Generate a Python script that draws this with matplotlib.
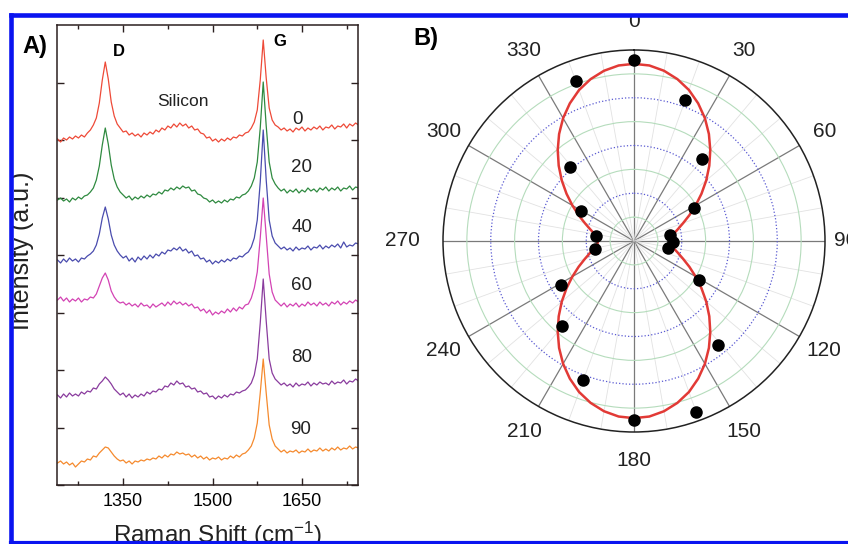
import numpy as np
import matplotlib
matplotlib.use('Agg')
import matplotlib.pyplot as plt
from matplotlib.lines import Line2D
from matplotlib.patches import Rectangle

plt.rcParams['font.family'] = ['Liberation Sans', 'DejaVu Sans']
plt.rcParams['mathtext.fontset'] = 'custom'
plt.rcParams['mathtext.rm'] = 'Liberation Sans'
plt.rcParams['mathtext.it'] = 'Liberation Sans:italic'

# ---- panel A: Raman spectra (sampled every 5 cm-1, 1240..1745) ----
shift = np.arange(1240, 1750, 5)

spec_0 = [1, -2, 2, 0, 3, 1, 4, 2, 5, 3,
          7, 10, 15, 22, 37, 60, 78, 61, 38, 24,
          16, 12, 8, 9, 5, 7, 4, 6, 3, 7,
          5, 8, 6, 10, 8, 12, 10, 14, 12, 16,
          13, 17, 14, 16, 12, 14, 10, 11, 7, 6,
          2, 3, -1, 1, -2, 1, -1, 2, 0, 3,
          2, 5, 4, 7, 8, 12, 18, 30, 60, 100,
          62, 32, 20, 15, 13, 10, 12, 9, 11, 8,
          12, 10, 13, 9, 12, 10, 13, 11, 14, 10,
          13, 12, 15, 11, 14, 13, 16, 12, 16, 14,
          17, 15]
spec_20 = [0, 2, -1, 1, -2, 2, 0, 3, 1, 4,
           5, 8, 12, 20, 34, 55, 72, 56, 35, 21,
           13, 8, 5, 2, 4, 0, 3, 1, 4, 2,
           5, 3, 6, 5, 8, 6, 10, 9, 12, 10,
           13, 11, 14, 12, 13, 9, 10, 6, 5, 2,
           1, -2, 0, -3, -1, -3, 0, -2, 1, 0,
           3, 2, 5, 6, 9, 14, 22, 38, 72, 118,
           74, 38, 22, 16, 12, 9, 11, 7, 10, 8,
           11, 7, 10, 8, 12, 9, 11, 8, 12, 10,
           13, 9, 12, 10, 13, 9, 12, 11, 14, 10,
           13, 12]
spec_40 = [0, -3, 1, -2, 2, -1, 1, -2, 2, 1,
           4, 6, 9, 15, 26, 42, 53, 41, 25, 15,
           9, 5, 2, 4, -1, 2, -2, 3, 0, 4,
           1, 5, 2, 6, 4, 8, 6, 10, 9, 12,
           10, 13, 9, 11, 7, 9, 4, 5, 1, 2,
           -2, 0, -4, -1, -3, 0, -2, 1, -1, 2,
           1, 4, 3, 6, 8, 13, 22, 40, 78, 130,
           80, 40, 24, 17, 14, 11, 13, 10, 12, 9,
           13, 10, 12, 11, 14, 10, 13, 12, 15, 11,
           14, 12, 15, 13, 16, 12, 18, 13, 15, 14,
           17, 16]
spec_60 = [0, 3, -1, 2, -2, 1, -1, 2, -2, 1,
           0, 3, 2, 6, 14, 22, 27, 20, 9, 3,
           -1, -3, -2, -5, -3, -6, -4, -7, -3, -6,
           -5, -8, -4, -7, -5, -3, -6, -2, -5, -1,
           -4, -2, -5, -3, -6, -4, -8, -7, -11, -9,
           -13, -10, -15, -12, -14, -11, -13, -9, -12, -8,
           -11, -7, -9, -5, -4, 2, 12, 28, 62, 102,
           64, 26, 8, 0, -3, -6, -3, -7, -4, -6,
           -3, -7, -4, -6, -2, -5, -3, -6, -2, -5,
           -3, -6, -2, -4, -1, -5, -2, -4, -1, -3,
           0, -2]
spec_80 = [0, -3, 1, -2, 2, -1, 1, -1, 3, 1,
           4, 3, 7, 6, 11, 14, 18, 15, 11, 6,
           3, 0, 2, -2, 1, -3, 0, -2, 1, -1,
           3, 1, 4, 3, 6, 5, 9, 8, 12, 10,
           14, 11, 12, 8, 9, 6, 7, 3, 4, 1,
           2, -2, -1, -4, -1, -3, 0, -2, 1, 0,
           3, 2, 4, 5, 8, 12, 20, 36, 72, 116,
           74, 36, 22, 16, 13, 10, 12, 9, 11, 8,
           12, 9, 11, 10, 13, 9, 12, 10, 13, 11,
           12, 10, 14, 11, 13, 12, 15, 11, 14, 13,
           16, 14]
spec_90 = [0, 2, -1, 1, -2, 0, -4, -1, 2, 1,
           4, 3, 7, 6, 10, 13, 16, 15, 11, 7,
           4, 2, 3, 0, 2, -1, 2, 1, 3, 2,
           4, 3, 5, 4, 7, 5, 8, 6, 9, 8,
           11, 9, 10, 8, 9, 6, 8, 5, 7, 4,
           6, 3, 5, 4, 6, 3, 5, 4, 7, 5,
           8, 6, 9, 10, 13, 17, 25, 40, 70, 104,
           70, 38, 24, 17, 14, 11, 13, 10, 12, 11,
           13, 10, 12, 11, 14, 11, 13, 12, 15, 12,
           14, 12, 15, 13, 16, 13, 15, 14, 17, 14,
           16, 15]

spectra = [spec_0, spec_20, spec_40, spec_60, spec_80, spec_90]
spec_labels = ['0', '20', '40', '60', '80', '90']
spec_colors = ['#ee4a38', '#2f8a40', '#4a4cae', '#d343b4', '#8a3c9e', '#f58a2e']
offsets = [345, 285, 225, 185, 90, 22]
label_pos = [(1643, 366), (1650, 318), (1650, 257), (1649, 199), (1649, 128), (1647, 55)]

# ---- panel B: polar plot of G-band intensity ----
pol_angle = [0, 20, 40, 61, 81, 92, 102, 121, 141, 160, 180,
             200, 220, 239, 259, 278, 299, 319, 340]
pol_r = [7.57, 6.30, 4.46, 2.87, 1.52, 1.64, 1.47, 3.18, 5.58, 7.64, 7.50,
         6.19, 4.67, 3.59, 1.66, 1.60, 2.55, 4.10, 7.14]

# fitted curve read every 5 degrees over a half turn (repeats each 180 deg)
fit_angle = np.arange(0, 365, 5)
fit_half = [7.42, 7.38, 7.24, 7.02, 6.73, 6.36, 5.94, 5.47, 4.97, 4.46,
            3.95, 3.45, 2.98, 2.56, 2.19, 1.90, 1.68, 1.54, 1.50,
            1.54, 1.68, 1.90, 2.19, 2.56, 2.98, 3.45, 3.95, 4.46, 4.97,
            5.47, 5.94, 6.36, 6.73, 7.02, 7.24, 7.38]
fit_r = fit_half + fit_half + [fit_half[0]]

W, H = 848, 544
def fx(px):
    return px / W
def fy(py):
    return 1 - py / H

fig = plt.figure(figsize=(W / 100, H / 100), dpi=100)
fig.patch.set_facecolor('white')

# panel A
ax = fig.add_axes([fx(57), fy(485), fx(358) - fx(57), fy(25) - fy(485)])
for vals, off, c in zip(spectra, offsets, spec_colors):
    ax.plot(shift, np.array(vals) + off, color=c, lw=0.9)
for lab, (xx, yy) in zip(spec_labels, label_pos):
    ax.text(xx, yy, lab, ha='center', va='center', fontsize=13.5, color='#222222')
ax.text(1342, 434, 'D', ha='center', va='center', fontsize=12, fontweight='bold')
ax.text(1613, 444, 'G', ha='center', va='center', fontsize=12, fontweight='bold')
ax.text(1451, 384, 'Silicon', ha='center', va='center', fontsize=12.5, color='#222222')

ax.set_xlim(1239, 1744)
ax.set_ylim(0, 460)
ax.set_xticks([1350, 1500, 1650])
ax.set_xticks([1275, 1425, 1575, 1725], minor=True)
ax.set_yticks(np.arange(0, 460, 57.5))
ax.set_yticklabels([])
ax.tick_params(which='both', direction='in', top=True, right=True,
               color='#2b1f1f', width=1)
ax.tick_params(which='major', length=5, labelsize=13, pad=5.5)
ax.tick_params(which='minor', length=3)
for s in ax.spines.values():
    s.set_color('#2b1f1f')
    s.set_linewidth(1.1)

fig.text(fx(34), fy(251), 'Intensity (a.u.)', rotation=90, ha='right',
         va='center', fontsize=18, color='#222222')
fig.text(fx(218), fy(543), r'Raman Shift (cm$^{-1}$)', ha='center',
         va='baseline', fontsize=17.5, color='#222222')
fig.text(fx(22), fy(53), 'A)', fontsize=17, fontweight='bold')
fig.text(fx(413), fy(45), 'B)', fontsize=17, fontweight='bold')

# panel B
pax = fig.add_axes([fx(443), fy(432), fx(825) - fx(443), fy(50) - fy(432)],
                   projection='polar')
pax.set_theta_zero_location('N')
pax.set_theta_direction(-1)
pax.set_ylim(0, 8)
pax.set_thetagrids(np.arange(0, 360, 10), labels=[''] * 36)
pax.set_rgrids(np.arange(1, 8), labels=[''] * 7)
pax.grid(True)
for i, gl in enumerate(pax.xaxis.get_gridlines()):
    if i % 3 == 0:
        gl.set_color('#7a7a7a')
        gl.set_linewidth(0.9)
    else:
        gl.set_color('#e2e2e2')
        gl.set_linewidth(0.6)
for i, gl in enumerate(pax.yaxis.get_gridlines()):
    if i % 2 == 0:
        gl.set_color('#b5dcbc')
        gl.set_linestyle('-')
        gl.set_linewidth(0.8)
    else:
        gl.set_color('#5a5ad2')
        gl.set_linestyle(':')
        gl.set_linewidth(0.9)
pax.set_xticks(np.deg2rad(np.arange(15, 360, 30)), minor=True)
pax.tick_params(axis='x', which='major', length=0, pad=0)
pax.tick_params(axis='x', which='minor', length=5, direction='in',
                width=0.8, color='#333333')
pax.spines['polar'].set_color('#222222')
pax.spines['polar'].set_linewidth(1.1)

pax.plot(np.deg2rad(fit_angle), fit_r, color='#e23a36', lw=1.8, zorder=3)
pax.plot(np.deg2rad(pol_angle), pol_r, 'o', color='black', ms=8, zorder=4)

for a in range(0, 360, 30):
    rr = 9.2
    if a == 270:
        rr = 9.7
    elif a == 90:
        rr = 8.85
    pax.text(np.deg2rad(a), rr, str(a), ha='center', va='center',
             fontsize=15, color='#222222', clip_on=False)

# scanned frame: white margins + blue border on top
fig.add_artist(Rectangle((0, 0), fx(8.5), 1, transform=fig.transFigure,
                         color='white', zorder=10))
fig.add_artist(Rectangle((0, fy(12.5)), 1, 12.5 / H, transform=fig.transFigure,
                         color='white', zorder=10))
blue = '#0a14f0'
fig.add_artist(Line2D([fx(10.8), fx(10.8)], [fy(15), 0], transform=fig.transFigure,
                      color=blue, lw=3.3, zorder=11, solid_capstyle='projecting'))
fig.add_artist(Line2D([fx(10.8), 1], [fy(15), fy(15)], transform=fig.transFigure,
                      color=blue, lw=3.3, zorder=11, solid_capstyle='projecting'))
fig.add_artist(Line2D([fx(10.8), 1], [fy(543), fy(543)], transform=fig.transFigure,
                      color=blue, lw=3.0, zorder=11))

fig.savefig('out.png', dpi=100)
